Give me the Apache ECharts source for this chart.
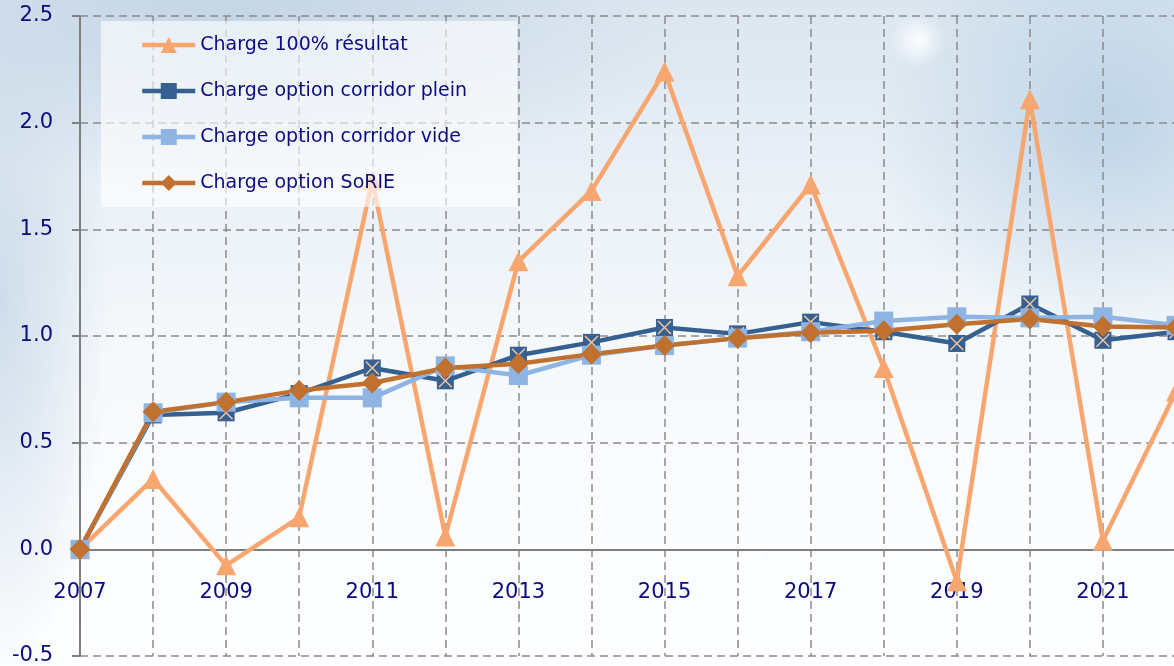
<!DOCTYPE html>
<html style="height: 100%">
    <head>
        <meta charset="utf-8">
        <title>Charge options</title>
        <script type="text/javascript" src="https://fastly.jsdelivr.net/npm/echarts@6/dist/echarts.min.js"></script>
<style>
body {
    margin: 0;
    height: 100%;
    background:
        radial-gradient(ellipse 28px 28px at 918px 40px, rgba(255,255,255,0.95), rgba(255,255,255,0) 100%),
        radial-gradient(ellipse 240px 220px at 1110px 120px, rgba(175,202,225,0.7), rgba(175,202,225,0) 100%),
        radial-gradient(ellipse 110px 380px at 0px 300px, rgba(200,216,232,0.85), rgba(200,216,232,0) 100%),
        radial-gradient(ellipse 460px 170px at 230px 20px, rgba(188,207,226,0.75), rgba(188,207,226,0) 100%),
        linear-gradient(to bottom, #dbe6f0 0%, #e8eff6 25%, #f4f8fb 50%, #fbfcfe 75%, #fdfeff 100%);
}
</style>
    </head>
    <body>
        <div id="target" style="width: 1174px; height: 666px"></div>
<script>
// years on the x axis
const years = ["2007", "2008", "2009", "2010", "2011", "2012", "2013", "2014",
               "2015", "2016", "2017", "2018", "2019", "2020", "2021", "2022"];

// series values
const charge100 = [0, 0.33, -0.075, 0.15, 1.73, 0.06, 1.35, 1.68, 2.24, 1.28, 1.71, 0.85, -0.15, 2.11, 0.04, 0.74];
const corridorPlein = [0, 0.63, 0.64, 0.73, 0.85, 0.79, 0.91, 0.97, 1.04, 1.01, 1.065, 1.02, 0.965, 1.15, 0.98, 1.02];
const corridorVide = [0, 0.64, 0.69, 0.71, 0.71, 0.86, 0.815, 0.91, 0.955, 0.99, 1.02, 1.07, 1.09, 1.085, 1.09, 1.05];
const sorie = [0, 0.645, 0.69, 0.745, 0.78, 0.85, 0.87, 0.915, 0.955, 0.99, 1.015, 1.025, 1.055, 1.08, 1.045, 1.04];

const names = ["Charge 100% résultat", "Charge option corridor plein",
               "Charge option corridor vide", "Charge option SoRIE"];

const navy = "#0c0c80";
const gridGray = "#8a8a8a";
const font = "DejaVu Sans";

let chart = echarts.init(document.getElementById('target'));

const xMark = "path://M0,1.5 L1.5,0 L10,8.5 L18.5,0 L20,1.5 L11.5,10 L20,18.5 L18.5,20 L10,11.5 L1.5,20 L0,18.5 L8.5,10 Z";

let option = {
    animation: false,
    backgroundColor: "transparent",
    grid: {
        left: 80,
        right: -2,
        top: 16,
        bottom: 10,
        containLabel: false,
        outerBoundsMode: "none",
    },
    legend: {
        data: names,
        orient: "vertical",
        left: 101,
        top: 21,
        padding: [14, 50, 14, 39],
        itemGap: 26,
        itemWidth: 53,
        itemHeight: 20,
        backgroundColor: "rgba(255,255,255,0.62)",
        lineStyle: { width: 4.5 },
        textStyle: {
            color: navy,
            fontFamily: font,
            fontSize: 19,
            lineHeight: 20,
        },
    },
    xAxis: {
        type: "category",
        data: years,
        boundaryGap: false,
        axisLine: { onZero: true, lineStyle: { color: "#7f7f7f", width: 2 } },
        axisTick: { show: false },
        axisLabel: {
            interval: 1,
            margin: -74,
            color: navy,
            fontFamily: font,
            fontSize: 21,
        },
        splitLine: {
            show: true,
            interval: 0,
            lineStyle: { color: gridGray, width: 1.5, type: [8, 5] },
        },
    },
    yAxis: {
        type: "value",
        min: -0.5,
        max: 2.5,
        interval: 0.5,
        axisLine: { show: true, lineStyle: { color: "#7f7f7f", width: 2 } },
        axisTick: { show: true, length: 8, lineStyle: { color: "#7f7f7f", width: 2 } },
        axisLabel: {
            margin: 27,
            color: navy,
            fontFamily: font,
            fontSize: 21,
            formatter: (v) => v.toFixed(1),
        },
        splitLine: {
            lineStyle: { color: gridGray, width: 1.5, type: [8, 5] },
        },
    },
    series: [
        {
            name: names[0],
            type: "line",
            data: charge100,
            symbol: "triangle",
            symbolSize: 20,
            color: "#f8a66f",
            lineStyle: { width: 4.5 },
        },
        {
            name: names[1],
            type: "line",
            data: corridorPlein,
            symbol: "rect",
            symbolSize: 17,
            color: "#36608f",
            lineStyle: { width: 4.5 },
        },
        {
            // the light cross drawn inside the dark squares
            name: "plein-x",
            type: "line",
            data: corridorPlein,
            symbol: xMark,
            symbolSize: 14,
            color: "#f3c3a3",
            lineStyle: { width: 0, opacity: 0 },
            silent: true,
        },
        {
            name: names[2],
            type: "line",
            data: corridorVide,
            symbol: "rect",
            symbolSize: 19,
            color: "#8db4e3",
            lineStyle: { width: 4.5 },
        },
        {
            name: names[3],
            type: "line",
            data: sorie,
            symbol: "diamond",
            symbolSize: 21,
            color: "#c0702f",
            lineStyle: { width: 4.5 },
        },
    ],
};

chart.setOption(option);
</script>
    </body>
</html>
